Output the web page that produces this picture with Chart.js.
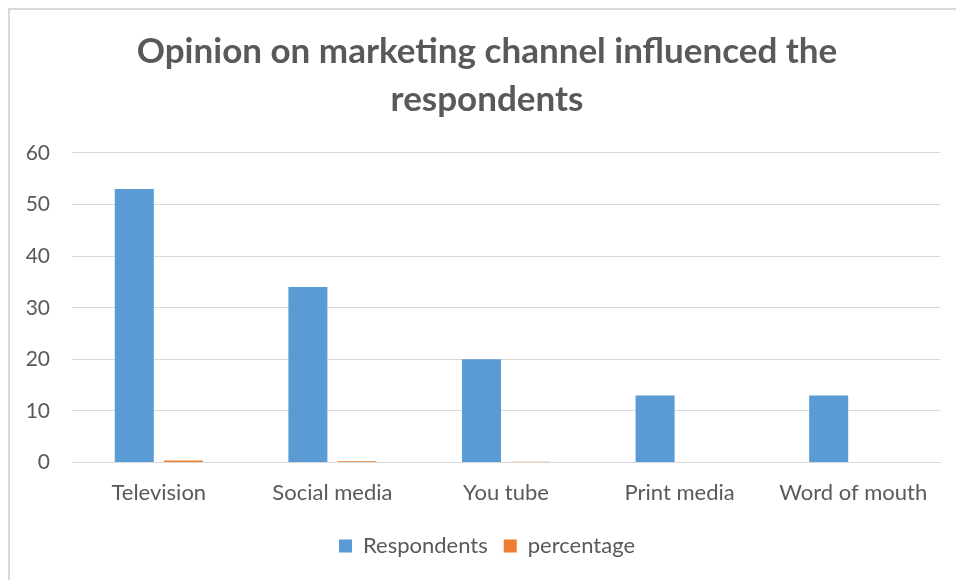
<!DOCTYPE html>
<html>
<head>
<meta charset="utf-8">
<script src="https://cdn.jsdelivr.net/npm/chart.js@4.4.1/dist/chart.umd.min.js"></script>
<style>
    body { margin: 0; background: #fff; }
    #frame {
        position: absolute; left: 8px; top: 8px;
        width: 970px; height: 600px;
        border: 2px solid #d9d9d9;
    }
    #chartBox { position: absolute; left: 0; top: 0; width: 956px; height: 580px; }
</style>
</head>
<body>
<div id="frame"></div>
<div id="chartBox"><canvas id="barChart" width="956" height="580"></canvas></div>
<script>
// Data for the chart
const channels = ['Television', 'Social media', 'You tube', 'Print media', 'Word of mouth'];
const respondents = [53, 34, 20, 13, 13];
const percentage = [0.4, 0.26, 0.15, 0.1, 0.1];
const titleLines = ['Opinion on marketing channel influenced the', 'respondents'];

const textGrey = '#595959';
const fontName = 'Lato';

const barData = {
    labels: channels,
    datasets: [{
        label: 'Respondents',
        data: respondents,
        backgroundColor: '#5B9BD5'
    }, {
        label: 'percentage',
        data: percentage,
        backgroundColor: '#ED7D31'
    }]
};

const barOptions = {
    type: 'bar',
    data: barData,
    options: {
        responsive: false,
        animation: false,
        layout: { padding: { left: 26, right: 8, top: 28, bottom: 13 } },
        datasets: {
            bar: { categoryPercentage: 0.565, barPercentage: 0.796 }
        },
        plugins: {
            title: {
                display: true,
                text: titleLines,
                color: textGrey,
                font: { family: fontName, size: 35, weight: 'bold', lineHeight: 1.37 },
                padding: { top: 0, bottom: 29 }
            },
            legend: {
                position: 'bottom',
                labels: {
                    color: textGrey,
                    font: { family: fontName, size: 22 },
                    boxWidth: 13,
                    boxHeight: 13,
                    padding: 16
                }
            },
            tooltip: { enabled: false }
        },
        scales: {
            x: {
                grid: { display: false },
                border: { display: true, color: '#d9d9d9', width: 1 },
                ticks: { color: textGrey, font: { family: fontName, size: 22 }, padding: 9 },
                afterFit: function (scale) { scale.height += 4; }
            },
            y: {
                min: 0,
                max: 60,
                ticks: { stepSize: 10, color: textGrey, font: { family: fontName, size: 21 }, padding: 22 },
                grid: { color: '#d9d9d9', drawTicks: false },
                border: { display: false },
                afterFit: function (scale) { scale.width = 46; }
            },
            // empty right axis, only keeps a small gap right of the plot
            yRight: {
                type: 'linear',
                position: 'right',
                grid: { display: false },
                border: { display: false },
                ticks: { display: false },
                afterFit: function (scale) { scale.width = 8; }
            }
        }
    }
};

document.addEventListener('DOMContentLoaded', function () {
    new Chart(document.getElementById('barChart'), barOptions);
});
</script>
</body>
</html>
